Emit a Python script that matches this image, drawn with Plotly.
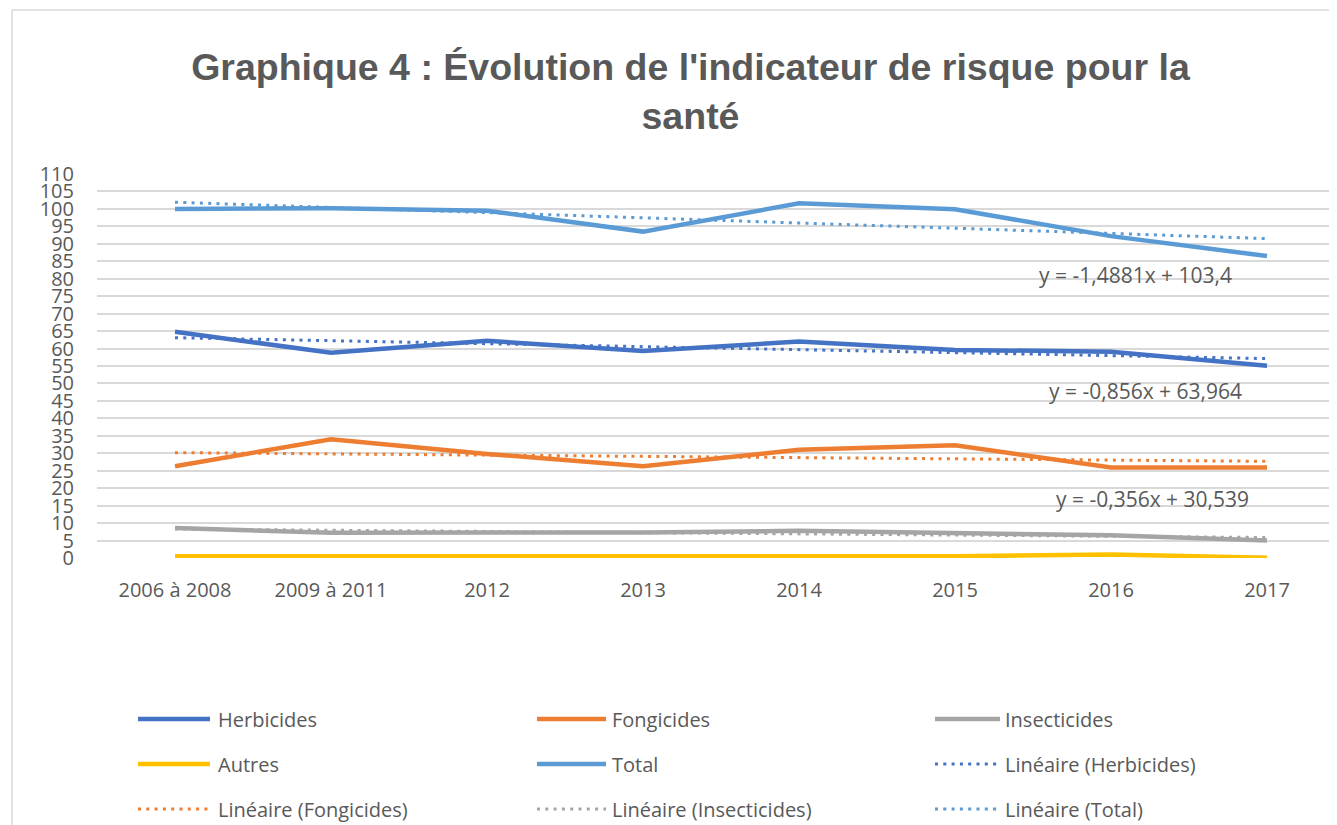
import numpy as np
import plotly.graph_objects as go

# ---------------- data ----------------
categories = ["2006 à 2008", "2009 à 2011", "2012", "2013", "2014", "2015", "2016", "2017"]
herbicides = [64.8, 58.8, 62.2, 59.3, 62.0, 59.6, 59.1, 55.1]
fongicides = [26.3, 34.0, 29.8, 26.3, 31.0, 32.3, 25.9, 25.9]
insecticides = [8.6, 7.2, 7.3, 7.3, 7.8, 7.0, 6.5, 5.0]
autres = [0.5, 0.5, 0.5, 0.5, 0.5, 0.5, 1.0, 0.1]
total = [100.0, 100.2, 99.5, 93.5, 101.6, 99.9, 92.2, 86.5]

series_names = ["Herbicides", "Fongicides", "Insecticides", "Autres", "Total"]
series_values = [herbicides, fongicides, insecticides, autres, total]
series_colors = ["#4472C4", "#ED7D31", "#A5A5A5", "#FFC000", "#5B9BD5"]

# trend lines (Excel "Linéaire"): displayed equations
trend_series = ["Herbicides", "Fongicides", "Insecticides", "Total"]
trend_labels = ["y = -0,856x + 63,964", "y = -0,356x + 30,539", None, "y = -1,4881x + 103,4"]
trend_slope = [-0.856, -0.356, None, -1.4881]
trend_intercept = [63.964, 30.539, None, 103.4]

yticks = list(range(0, 111, 5))

title_text = "Graphique 4 : Évolution de l'indicateur de risque pour la<br>santé"

# ---------------- layout constants ----------------
W, H = 1337, 825
OFF = 8                      # page body margin offset of the rendered figure
ML = 97 - OFF                # plot left edge (figure px)
MT = 174 - OFF               # plot top edge
PLOT_BOTTOM = 558 - OFF      # plot bottom edge
PLOT_RIGHT = 1337 - OFF
PW = PLOT_RIGHT - ML
PH = PLOT_BOTTOM - MT
CAT_W = 156
FONT = "Open Sans, Noto Sans, sans-serif"
TXT = "#595959"
GRID = "#D9D9D9"


def px2x(px):
    """screen px -> paper x"""
    return (px - OFF - ML) / PW


def px2y(py):
    """screen px -> paper y"""
    return (PLOT_BOTTOM - (py - OFF)) / PH


fig = go.Figure()
xidx = np.arange(1, len(categories) + 1)

for name, vals, col in zip(series_names, series_values, series_colors):
    fig.add_trace(go.Scatter(
        x=categories, y=vals, mode="lines", name=name,
        line=dict(color=col, width=4.5), showlegend=False, hoverinfo="skip"))

color_of = dict(zip(series_names, series_colors))
values_of = dict(zip(series_names, series_values))
for name, slope, icpt in zip(trend_series, trend_slope, trend_intercept):
    if slope is None:
        slope, icpt = np.polyfit(xidx, values_of[name], 1)
    ty = slope * xidx + icpt
    fig.add_trace(go.Scatter(
        x=categories, y=ty, mode="lines", name=f"Linéaire ({name})",
        line=dict(color=color_of[name], width=3, dash="3px,5.3px"),
        showlegend=False, hoverinfo="skip"))

# equation labels (screen px centres)
eq_pos = {"Total": (1135, 275), "Herbicides": (1145, 391), "Fongicides": (1152, 499)}
annotations = []
for name, lab in zip(trend_series, trend_labels):
    if lab:
        ex, ey = eq_pos[name]
        annotations.append(dict(x=px2x(ex), y=px2y(ey), xref="paper", yref="paper", text=lab,
                                showarrow=False, font=dict(family=FONT, size=21, color=TXT),
                                xanchor="center", yanchor="middle"))

# custom legend (3 columns x 3 rows)
legend_items = [(n, c, "solid") for n, c in zip(series_names, series_colors)] + \
               [(f"Linéaire ({n})", color_of[n], "dot") for n in trend_series]
col_sw = [(138, 210), (537, 606), (935, 1000)]
col_tx = [216, 610, 1003]
row_y = [719, 764, 809]
shapes = []
for i, (lab, col, style) in enumerate(legend_items):
    r, c = divmod(i, 3)
    x0, x1 = col_sw[c]
    y = row_y[r]
    if style == "solid":
        ln = dict(color=col, width=4.5)
    else:
        ln = dict(color=col, width=3, dash="3px,5.3px")
    shapes.append(dict(type="line", xref="paper", yref="paper",
                       x0=px2x(x0), x1=px2x(x1), y0=px2y(y), y1=px2y(y), line=ln))
    annotations.append(dict(x=px2x(col_tx[c]), y=px2y(y), xref="paper", yref="paper",
                            text=lab, showarrow=False, xanchor="left", yanchor="middle",
                            font=dict(family=FONT, size=20, color=TXT)))

# chart border (left and top edges visible)
shapes.append(dict(type="line", xref="paper", yref="paper", x0=px2x(12), x1=px2x(12),
                   y0=px2y(10), y1=px2y(840), line=dict(color=GRID, width=1.5)))
shapes.append(dict(type="line", xref="paper", yref="paper", x0=px2x(12), x1=px2x(1350),
                   y0=px2y(10), y1=px2y(10), line=dict(color=GRID, width=1.5)))

fig.update_layout(
    width=W, height=H,
    margin=dict(l=ML, r=W - PLOT_RIGHT, t=MT, b=H - PLOT_BOTTOM, pad=0),
    paper_bgcolor="white", plot_bgcolor="white",
    title=dict(text=title_text, x=682.5 / W, xref="container", xanchor="center",
               y=1 - 72 / H, yref="container", yanchor="middle",
               font=dict(family="Liberation Sans, Arial, sans-serif", size=37.5, color=TXT,
                         weight="bold")),
    showlegend=False,
    hovermode=False,
    shapes=shapes,
    annotations=annotations,
)
fig.update_xaxes(type="category", range=[-0.5, PW / CAT_W - 0.5], showgrid=False,
                 showline=False, zeroline=False, ticks="", ticklabelstandoff=18,
                 tickfont=dict(family=FONT, size=20, color=TXT))
fig.update_yaxes(range=[0, 110], tickvals=yticks, ticktext=[str(v) for v in yticks],
                 showgrid=True, gridcolor=GRID, gridwidth=1.5, zeroline=False,
                 showline=False, ticks="", ticklabelstandoff=22,
                 tickfont=dict(family=FONT, size=20, color=TXT))

fig.write_html("out.html")
